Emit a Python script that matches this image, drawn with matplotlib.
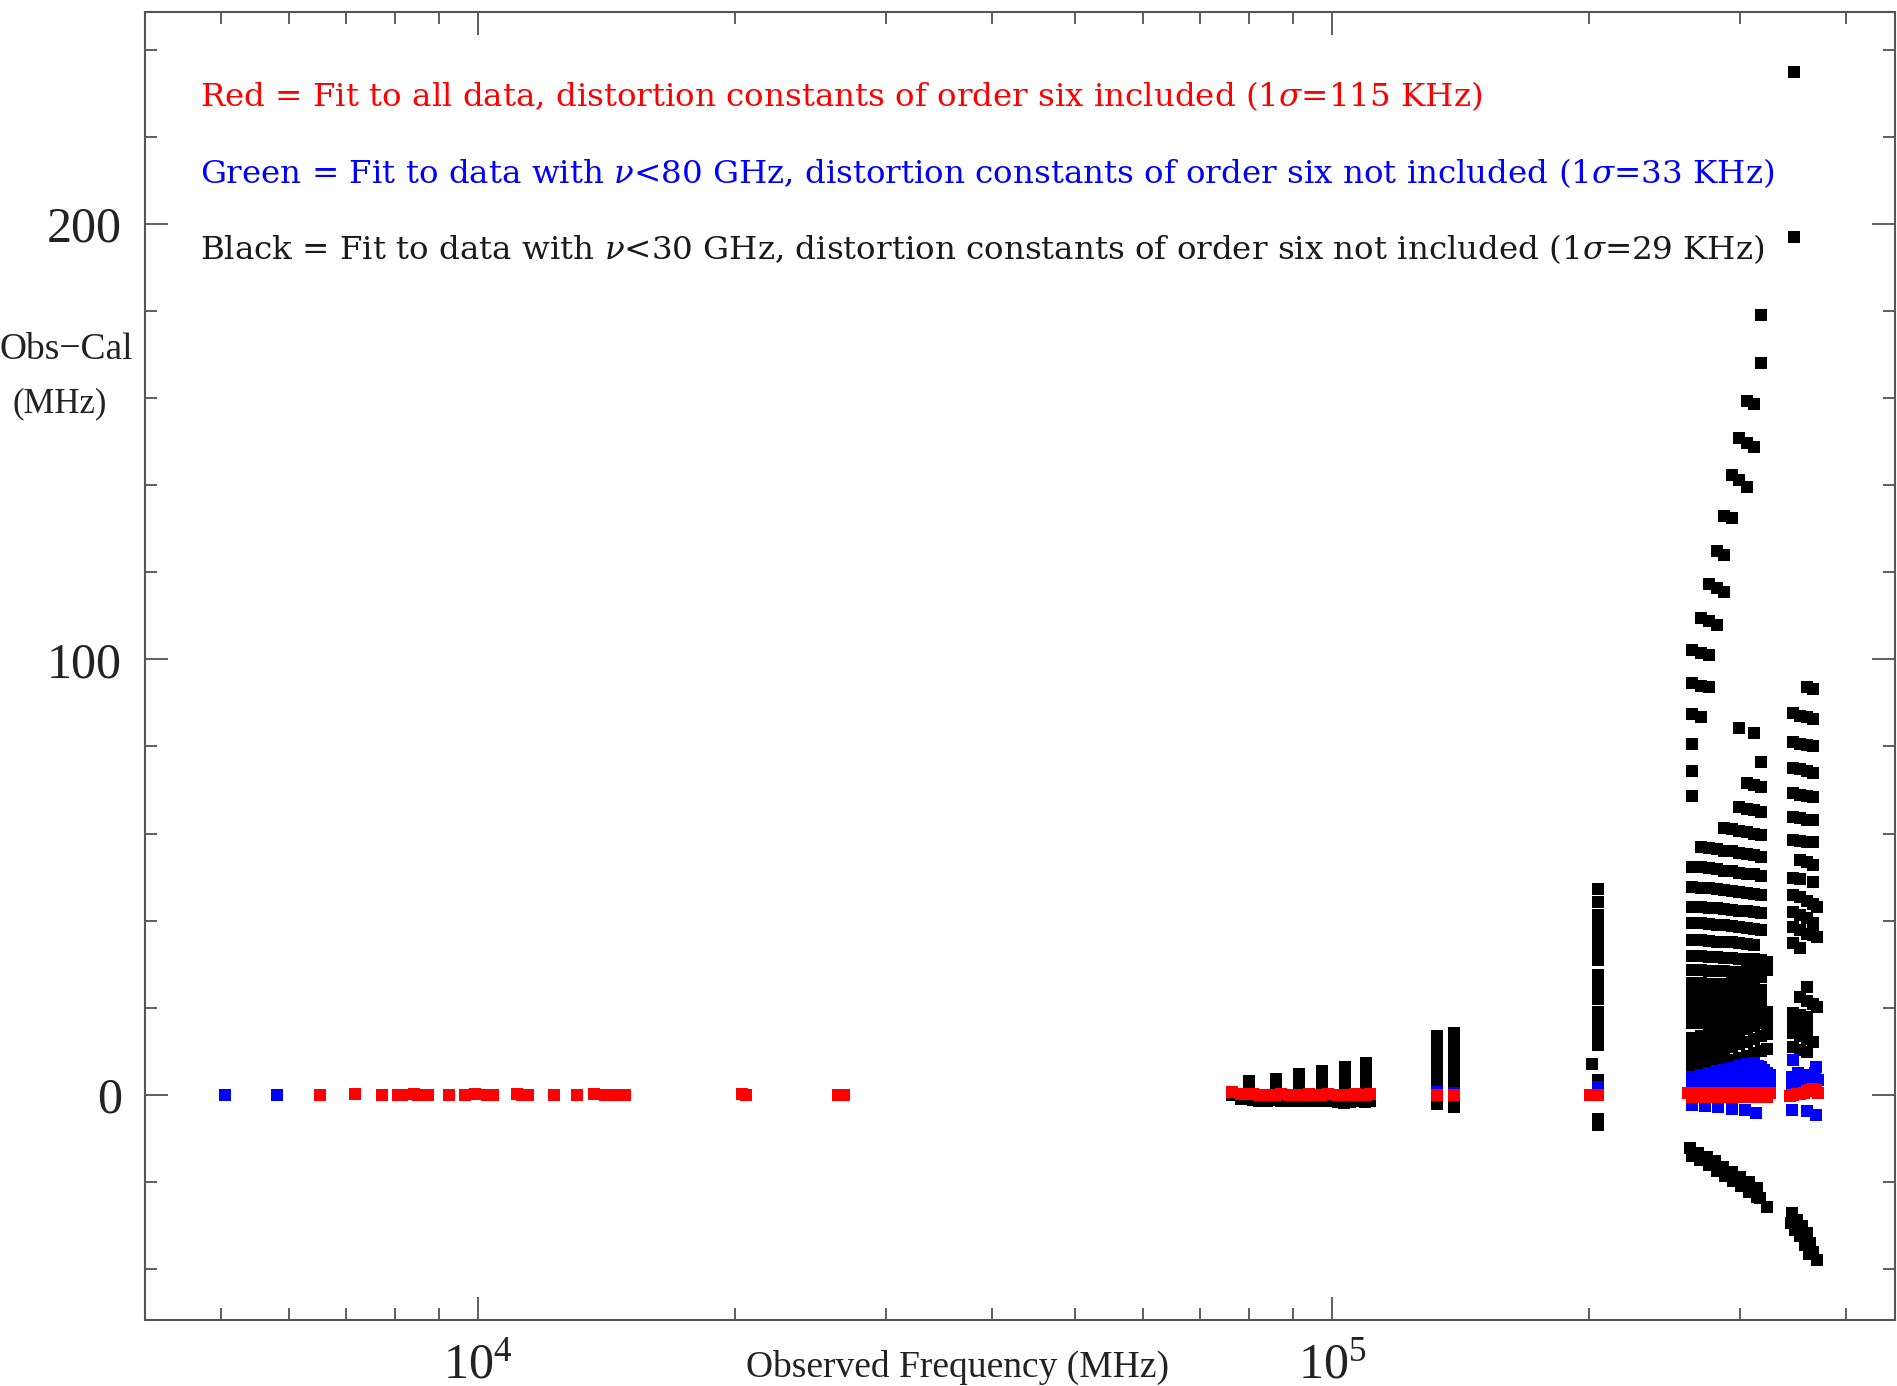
import numpy as np
import matplotlib
matplotlib.use("Agg")
import matplotlib.pyplot as plt
from matplotlib.ticker import MultipleLocator, LogLocator, NullFormatter, LogFormatterSciNotation

plt.rcParams['font.family'] = 'serif'
plt.rcParams['font.serif'] = ['Liberation Serif', 'DejaVu Serif']
plt.rcParams['mathtext.fontset'] = 'custom'
plt.rcParams['mathtext.rm'] = 'DejaVu Serif'
plt.rcParams['mathtext.it'] = 'DejaVu Serif:italic'

# ---------------- data (frequency in MHz, Obs-Cal in MHz) ----------------
# low frequency lines: all three fits ~0
red_low_f = [6530, 7175, 7728, 8050, 8150, 8420, 8500, 8727, 9239, 9650, 9930, 10250, 10400,
             11100, 11250, 11450, 12280, 13050, 13670, 14100, 14350, 14600, 14850,
             20350, 20600, 26400, 26850]
red_low_v = [0.0, 0.1, 0.0, -0.1, 0.0, 0.1, 0.0, 0.0, -0.1, 0.0, 0.1, 0.0, 0.0,
             0.1, 0.0, -0.1, 0.0, 0.0, 0.1, 0.0, 0.0, -0.1, 0.0,
             0.1, 0.0, 0.0, -0.1]
blue_low_f = [5058, 5821]
blue_low_v = [0.0, 0.0]

# 75-110 GHz groups
red_mid_f = [76300, 78300, 80700, 82200, 84000, 85800, 87200, 89000, 90800, 92600, 94000,
             95300, 97100, 98800, 101500, 103300, 105000, 106300, 107600, 109300, 110700]
red_mid_v = [0.6, 0.2, 0.1, 0.0, -0.1, 0.0, 0.1, 0.0, -0.1, 0.0, 0.1,
             0.0, 0.0, 0.1, 0.0, -0.1, 0.0, 0.1, 0.0, 0.0, 0.1]
blk_mid_under_v = [0.0, -1.0, -1.2, -1.3, -1.3, -1.2, -1.3, -1.4, -1.5, -1.5, -1.4,
                   -1.3, -1.5, -1.4, -1.6, -1.8, -1.7, -1.5, -1.5, -1.6, -1.4]
mid_col_f = [79850, 86060, 91570, 97430, 103650, 109560]
mid_col_v = [[3.2, 2.0],
             [3.7, 2.5, 1.3],
             [4.7, 3.5, 2.3, 1.1],
             [5.4, 4.2, 3.0, 1.8],
             [6.3, 5.1, 3.9, 2.7, 1.5],
             [7.3, 6.1, 4.9, 3.7, 2.5, 1.3]]

# 133 / 139 GHz columns
c133_f, c139_f = 132800, 139000
c133_v = [13.4, 12.0, 10.6, 9.2, 7.8, 6.4, 5.0, 3.6, 2.2, -1.5, -2.2]
c139_v = [14.3, 11.5, 10.1, 8.7, 7.3, 5.9, 4.5, 3.1, 1.7, -1.2, -2.9]
red_hi_f = [132800, 139000, 200500, 204700]
red_hi_v = [0.0, 0.0, 0.0, 0.0]
blue_hi_f = [132800, 139000, 204700]
blue_hi_v = [0.6, 0.5, 1.9]

# ~205 GHz column
c204_f = 204700
c204_v = [47.2, 44.2, 41.4, 38.6, 35.8, 33.2, 31.0, 27.5, 24.7, 21.9, 19.1, 16.8, 14.9,
          13.2, 11.5, 3.4, -5.5, -7.0]
single_f = [201400]
single_v = [7.1]

# 260-325 GHz cluster: columns and black rows
big_cols = [264200, 270200, 276400, 282100, 288000, 293800, 299900, 305900, 312000, 317900, 322900]
half_cols = [267200, 273300, 279200, 285000, 290900, 296800, 302900, 308900, 315000, 320400, 325500]
N = None
big_rows = [
    [N, 56.8, 56.7, 56.4, 56.1, 55.9, 55.6, 55.3, 55.0, 54.7, N],
    [52.4, 52.2, 52.0, 51.8, 51.5, 51.3, 51.0, 50.8, 50.6, 50.3, N],
    [47.8, 47.6, 47.4, 47.2, 47.0, 46.8, 46.5, 46.3, 46.1, 45.9, N],
    [43.2, 43.1, 42.9, 42.8, 42.6, 42.4, 42.3, 42.1, 41.9, 41.8, N],
    [39.5, 39.4, 39.2, 39.0, 38.9, 38.7, 38.5, 38.3, 38.1, 37.9, N],
    [35.6, 35.5, 35.4, 35.2, 35.1, 35.0, 34.8, 34.6, 34.4, N, N],
    [31.9, 31.8, 31.7, 31.6, 31.5, 31.4, 31.3, 31.2, 31.1, 31.0, 30.5],
    [28.7, 28.6, 28.5, 28.4, 28.4, 28.3, 28.3, 28.5, 28.8, 29.0, 28.6],
    [25.7, 25.6, 25.5, 25.4, 25.4, 25.5, 25.8, 26.2, 26.6, 27.0, N],
    [23.4, 23.3, 23.2, 23.1, 23.3, 23.6, 24.0, 24.5, 25.0, N, N],
    [21.1, 21.0, 20.9, 21.0, 21.3, 21.7, 22.2, 22.8, 23.4, 24.0, N],
    [18.8, 18.7, 18.6, 18.9, 19.3, 19.8, 20.3, 20.8, 21.4, 22.0, N],
    [16.5, 16.4, 16.5, 16.8, 17.2, 17.6, 18.1, 18.6, 19.2, 19.8, 19.0],
    [13.0, 13.6, 14.3, 15.0, 15.7, 16.4, 17.1, 17.8, 18.5, 19.2, 18.5],
    [10.3, 11.0, 11.7, 12.4, 13.1, 13.8, 14.5, 15.2, 15.9, 16.5, 16.0],
    [8.0, 8.6, 9.2, 9.8, 10.4, 11.0, 11.6, 12.2, 12.8, 13.4, 14.0],
    [5.5, 6.0, 6.5, 7.0, 7.5, 8.0, 8.5, 9.0, 9.5, 10.0, 10.5],
]
big_blue_rows = [
    [4.1, 4.6, 5.0, 5.4, 5.8, 6.2, 6.6, 7.0, 7.3, 6.5, 5.0],
    [2.0, 2.3, 2.6, 2.9, 3.2, 3.5, 3.8, 4.1, 4.4, 4.0, 3.0],
]
half_blue_rows = [
    [3.3, 3.8, 4.2, 4.6, 5.0, 5.4, 5.8, 6.2, 6.6, 5.8, 4.5],
    [1.4, 1.6, 1.8, 2.0, 2.2, 2.4, 2.6, 2.8, 3.0, 2.6, 2.0],
]
blue_neg_f = [263900, 273000, 283300, 293800, 304200, 313700]
blue_neg_v = [-2.3, -2.6, -2.9, -3.2, -3.5, -4.1]
red_big_f = [261000, 264200, 267200, 270200, 273300, 276400, 279200, 282100, 285000, 288000,
             290900, 293800, 296800, 299900, 302900, 305900, 308900, 312000, 315000, 317900,
             320400, 322900, 325500]
red_big_v = [0.5, -0.5, 0.5, -0.5, 0.5, -0.5, 0.5, -0.5, 0.5, -0.5,
             0.5, -0.5, 0.5, -0.5, 0.5, -0.5, 0.5, -0.5, 0.5, -0.5,
             0.5, -0.5, 0.5]

# high branches rising from the 265-320 GHz cluster (and top points)
arm_f = [347300, 347300, 317900, 317900, 305900, 312000, 299900, 305900, 312000, 293800,
         299900, 305900, 288000, 293800, 282100, 288000, 276400, 282100, 288000, 270200,
         276400, 282100, 264200, 270200, 276400, 264200, 270200, 276400, 264200, 270200,
         264200, 264200, 264200,
         299900, 312000, 317900, 305900, 312000, 317900, 299900, 305900, 312000, 317900,
         288000, 293800, 299900, 305900, 312000, 317900]
arm_v = [234.9, 197.0, 179.0, 168.1, 159.4, 158.6, 150.7, 149.6, 148.8, 142.3,
         141.2, 139.6, 133.0, 132.5, 124.9, 124.0, 117.3, 116.4, 115.5, 109.5,
         108.8, 107.9, 102.2, 101.5, 101.0, 94.5, 93.9, 93.6, 87.4, 86.8,
         80.6, 74.4, 68.6,
         84.3, 83.0, 76.5, 71.5, 71.1, 70.6, 66.2, 65.6, 65.4, 65.0,
         61.2, 61.0, 60.6, 60.3, 60.0, 59.7]

# negative branch of the big cluster
neg_f = [262600, 268500, 274700, 280900, 287200, 293800, 300500, 307300, 314300, 317100, 322900,
         264000, 269800, 276400, 282400, 288600, 294900, 301300, 307800, 314600]
neg_v = [-12.2, -13.4, -14.2, -15.3, -16.5, -17.6, -18.8, -19.9, -21.4, -23.7, -25.7,
         -14.0, -15.0, -16.2, -17.4, -18.6, -19.8, -21.0, -22.2, -23.5]

# 345-370 GHz cluster
r_cols = [346800, 353200, 359600, 365500, 370000]
r_rows = [
    [N, N, 93.7, 93.1, N],
    [87.6, 87.0, 86.7, 86.4, N],
    [81.0, 80.6, 80.3, 80.0, N],
    [75.0, 74.7, 74.3, 74.0, N],
    [69.2, 68.9, 68.6, 68.4, N],
    [63.8, 63.5, 63.2, 63.0, N],
    [58.5, 58.3, 58.1, 58.0, N],
    [N, 54.0, 53.5, 52.8, N],
    [49.8, 49.5, N, 48.9, N],
    [45.9, 45.5, 44.5, 43.8, 43.2],
    [42.0, 41.2, 40.5, 39.5, N],
    [38.6, 37.8, 37.0, 36.6, 36.3],
    [34.9, 33.7, N, N, N],
    [N, N, 24.8, N, N],
    [N, 22.5, 21.5, 20.8, 20.2],
    [18.8, 18.3, 17.9, N, N],
    [16.5, 16.0, 15.6, N, N],
    [14.2, 13.5, 12.8, 12.2, N],
    [11.0, 10.4, 9.9, N, N],
]
rneg_f = [345300, 350000, 354800, 359600, 362800, 366100, 369400, 344300, 348500, 353200, 357500, 362000]
rneg_v = [-27.2, -28.7, -30.2, -31.8, -34.0, -36.0, -37.9, -29.5, -31.0, -32.5, -34.5, -36.5]
blue_r_f = [346800, 345500, 345500, 351100, 355700, 360300, 368300, 367500, 367500, 345500, 359600, 368300,
            350000, 356400, 362500, 371000]
blue_r_v = [8.0, 4.0, 2.5, 5.0, 3.2, 4.5, 6.4, 5.0, 2.8, -3.5, -3.8, -4.6,
            2.0, 2.4, 3.0, 3.5]
red_r_f = [343500, 346800, 350000, 353200, 356400, 359600, 362500, 365500, 368500, 371000]
red_r_v = [-0.2, 0.0, 0.1, 0.2, 0.5, 0.8, 1.2, 1.4, 1.0, 0.5]

# ---------------- assemble point sets ----------------
def grid(cols, rows):
    f, v = [], []
    for row in rows:
        for c, y in zip(cols, row):
            if y is not None:
                f.append(c)
                v.append(y)
    return f, v

bf, bv = [], []
for c, vals in zip(mid_col_f, mid_col_v):
    bf += [c] * len(vals)
    bv += vals
bf += red_mid_f
bv += blk_mid_under_v
bf += [c133_f] * len(c133_v) + [c139_f] * len(c139_v) + [c204_f] * len(c204_v) + single_f
bv += c133_v + c139_v + c204_v + single_v
g = grid(big_cols, big_rows); bf += g[0]; bv += g[1]
g = grid(r_cols, r_rows); bf += g[0]; bv += g[1]
bf += arm_f + neg_f + rneg_f
bv += arm_v + neg_v + rneg_v

gf = blue_low_f + blue_hi_f + blue_neg_f + blue_r_f
gv = blue_low_v + blue_hi_v + blue_neg_v + blue_r_v
g = grid(big_cols, big_blue_rows); gf += g[0]; gv += g[1]
g = grid(half_cols, half_blue_rows); gf += g[0]; gv += g[1]

rf = red_low_f + red_mid_f + red_hi_f + red_big_f + red_r_f
rv = red_low_v + red_mid_v + red_hi_v + red_big_v + red_r_v

# ---------------- plot ----------------
fig = plt.figure(figsize=(18.97, 13.86), dpi=100)
ax = fig.add_axes([0.0767, 0.0476, 0.9222, 0.9440])

ms = 85
ax.scatter(bf, bv, s=ms, marker='s', color='black', linewidths=0, zorder=3)
ax.scatter(gf, gv, s=ms, marker='s', color='#0000ff', linewidths=0, zorder=4)
ax.scatter(rf, rv, s=ms, marker='s', color='#ff0000', linewidths=0, zorder=5)

ax.set_xscale('log')
ax.set_xlim(4080, 456000)
ax.set_ylim(-51.7, 248.7)

ax.xaxis.set_major_locator(LogLocator(base=10))
ax.xaxis.set_minor_locator(LogLocator(base=10, subs=np.arange(2, 10)))
ax.xaxis.set_major_formatter(LogFormatterSciNotation())
ax.xaxis.set_minor_formatter(NullFormatter())
ax.yaxis.set_major_locator(MultipleLocator(100))
ax.yaxis.set_minor_locator(MultipleLocator(20))

for s in ax.spines.values():
    s.set_color('#555555')
    s.set_linewidth(1.5)

ax.tick_params(which='both', direction='in', top=True, right=True, color='#444444', width=1.2,
               labelsize=36, labelcolor='#222222')
ax.tick_params(which='major', length=16.5)
ax.tick_params(which='minor', length=8.5)
ax.tick_params(axis='y', pad=17)
ax.tick_params(axis='x', pad=16)

# legend-like text lines
tx = 200 / 1897
kw = dict(fontsize=23.4, va='baseline', family='DejaVu Serif')
fig.text(tx, 1 - 106 / 1386,
         r"Red = Fit to all data, distortion constants of order six included (1$\sigma$=115 KHz)",
         color='#ff0000', **kw)
fig.text(tx, 1 - 183 / 1386,
         r"Green = Fit to data with $\nu$<80 GHz, distortion constants of order six not included (1$\sigma$=33 KHz)",
         color='#0000ff', **kw)
fig.text(tx, 1 - 259 / 1386,
         r"Black = Fit to data with $\nu$<30 GHz, distortion constants of order six not included (1$\sigma$=29 KHz)",
         color='#1a1a1a', **kw)

# axis labels
fig.text(66 / 1897, 1 - 350 / 1386, "Obs\u2212Cal", fontsize=27, ha='center', va='center', color='#222222')
fig.text(60 / 1897, 1 - 404 / 1386, "(MHz)", fontsize=25, ha='center', va='center', color='#222222')
fig.text(958 / 1897, 1 - 1367 / 1386, "Observed Frequency (MHz)", fontsize=27, ha='center', va='center',
         color='#222222')

fig.savefig("out.png", dpi=100)
